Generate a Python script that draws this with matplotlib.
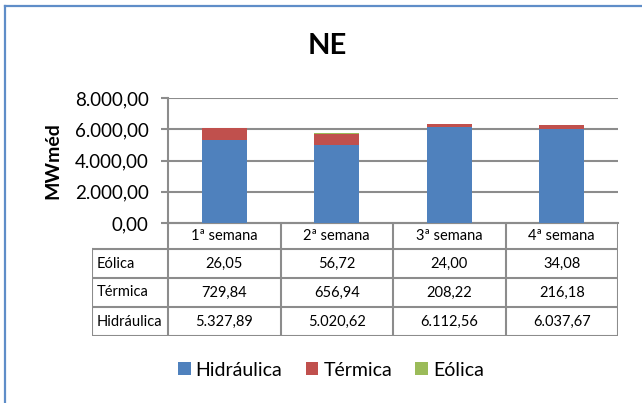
import matplotlib
matplotlib.use("Agg")
import matplotlib.pyplot as plt
from matplotlib.lines import Line2D
from matplotlib.patches import Patch

# ---- data ----
categories = ["1ª semana", "2ª semana", "3ª semana", "4ª semana"]
series_names = ["Hidráulica", "Térmica", "Eólica"]
hidraulica = [5327.89, 5020.62, 6112.56, 6037.67]
termica = [729.84, 656.94, 208.22, 216.18]
eolica = [26.05, 56.72, 24.00, 34.08]
yticks = [0, 2000, 4000, 6000, 8000]
title = "NE"
ylabel = "MWméd"

colors = {"Hidráulica": "#4f81bd", "Térmica": "#c0504d", "Eólica": "#9bbb59"}
GRID = "#8c8c8c"
FONT = "Lato"
plt.rcParams['font.family'] = [FONT, 'DejaVu Sans']


def br(v):
    s = f"{v:,.2f}"
    return s.replace(",", "X").replace(".", ",").replace("X", ".")


W, H = 642, 403
fig = plt.figure(figsize=(W / 100, H / 100), dpi=100)


def fx(px):
    return px / W


def fy(py):
    return 1 - py / H


ax_l, ax_r, ax_t, ax_b = 168, 618, 98, 223
ax = fig.add_axes([fx(ax_l), fy(ax_b), fx(ax_r - ax_l), (ax_b - ax_t) / H])

x = list(range(len(categories)))
bw = 0.4
ax.bar(x, hidraulica, bw, color=colors["Hidráulica"], zorder=3)
ax.bar(x, termica, bw, bottom=hidraulica, color=colors["Térmica"], zorder=3)
bot2 = [a + b for a, b in zip(hidraulica, termica)]
ax.bar(x, eolica, bw, bottom=bot2, color=colors["Eólica"], zorder=3)

ax.set_xlim(-0.5, len(categories) - 0.5)
ax.set_ylim(0, 8000)
ax.set_yticks(yticks)
ax.set_yticklabels([br(v) for v in yticks], fontsize=13.5, color="#000000")
ax.set_xticks([])
ax.yaxis.grid(True, color=GRID, linewidth=1.5, zorder=0)
ax.set_axisbelow(True)
for s in ["top", "right"]:
    ax.spines[s].set_visible(False)
ax.spines["left"].set_color(GRID)
ax.spines["left"].set_linewidth(1.5)
ax.spines["bottom"].set_color(GRID)
ax.spines["bottom"].set_linewidth(1.5)
ax.tick_params(axis="y", length=5, width=1.5, color=GRID, pad=9)

# ---- table ----
lab_w = 76 / 112.5
tab_top, tab_bot = 223, 336
tax = fig.add_axes([fx(92), fy(tab_bot), fx(ax_r - 92), (tab_bot - tab_top) / H])
tax.set_xlim(-0.5 - lab_w, len(categories) - 0.5)
row_edges = [0, 26, 55, 84, 113]
tax.set_ylim(113, 0)
tax.axis("off")
lc = dict(color=GRID, linewidth=1.5, solid_capstyle="projecting")
tax.plot([-0.5, 3.5], [0, 0], **lc)
for yy in row_edges[1:]:
    tax.plot([-0.5 - lab_w, 3.5], [yy, yy], **lc)
tax.plot([-0.5 - lab_w] * 2, [row_edges[1], row_edges[-1]], **lc)
for k in range(len(categories) + 1):
    tax.plot([k - 0.5] * 2, [0, row_edges[-1]], **lc)

rows = [("Eólica", eolica), ("Térmica", termica), ("Hidráulica", hidraulica)]
fs_t = 10.5
for i, c in enumerate(categories):
    tax.text(i, (row_edges[0] + row_edges[1]) / 2, c, ha="center", va="center", fontsize=fs_t)
for r, (name, vals) in enumerate(rows):
    yc = (row_edges[r + 1] + row_edges[r + 2]) / 2
    tax.text(-0.5 - lab_w + 5 / 112.5, yc, name, ha="left", va="center", fontsize=fs_t)
    for i, v in enumerate(vals):
        tax.text(i, yc, br(v), ha="center", va="center", fontsize=fs_t)

# ---- title and label ----
fig.text(fx(327), fy(46), title, ha="center", va="center", fontsize=21, fontweight="bold")
fig.text(fx(53), fy(161), ylabel, ha="center", va="center", rotation=90, fontsize=14,
         fontweight="bold")

# ---- legend ----
handles = [Patch(facecolor=colors[n], edgecolor="none") for n in series_names]
fig.legend(handles, series_names, loc="center", bbox_to_anchor=(fx(331), fy(370)),
           ncol=3, frameon=False, fontsize=14, handlelength=0.65, handleheight=0.65,
           handletextpad=0.25, columnspacing=1.2)

# ---- outer frame ----
frame_c = "#5f8dc8"
fig.add_artist(Line2D([fx(5.5), fx(5.5)], [fy(5.5), 0], transform=fig.transFigure,
                      color=frame_c, linewidth=1.6))
fig.add_artist(Line2D([fx(5.5), 1], [fy(5.5), fy(5.5)], transform=fig.transFigure,
                      color=frame_c, linewidth=1.6))

fig.savefig("out.png", dpi=100)
